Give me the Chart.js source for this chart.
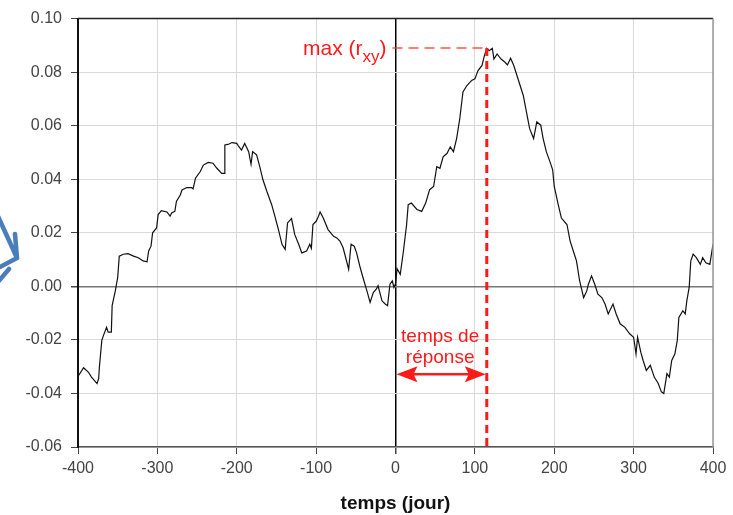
<!DOCTYPE html>
<html>
<head>
<meta charset="utf-8">
<script src="https://cdn.jsdelivr.net/npm/chart.js@4/dist/chart.umd.min.js"></script>
<style>
html, body { margin: 0; padding: 0; background: #fff; }
</style>
</head>
<body>
<canvas id="correl" width="733" height="515"></canvas>
<script>
// lag in days and cross-correlation r_xy
var days = [
  -399, -393, -387, -383, -376, -374, -373, -370, -368, -364, -362, -358, -357, -353, -350, -348,
  -343, -337, -330, -324, -318, -313, -311, -308, -306, -301, -299, -295, -288, -284, -282, -278,
  -276, -271, -269, -263, -257, -255, -252, -246, -242, -236, -230, -225, -219, -216, -215, -211,
  -206, -200, -198, -194, -190, -185, -182, -180, -175, -171, -167, -162, -156, -152, -148, -143,
  -139, -136, -131, -127, -122, -118, -112, -108, -106, -104, -100, -97, -95, -91, -85, -78,
  -74, -70, -66, -59, -56, -52, -49, -45, -41, -36, -32, -28, -24, -22, -17, -13,
  -10, -7, -4, -2, 0, 2, 6, 10, 14, 16, 20, 27, 33, 38, 43, 48,
  52, 56, 60, 65, 69, 73, 77, 81, 85, 90, 96, 100, 104, 109, 112, 115,
  118, 122, 124, 128, 133, 138, 141, 145, 149, 155, 161, 165, 169, 174, 178, 183,
  186, 190, 195, 198, 200, 205, 209, 216, 220, 224, 228, 232, 237, 241, 243, 247,
  251, 255, 260, 264, 268, 274, 278, 283, 289, 295, 300, 303, 305, 309, 312, 316,
  321, 326, 331, 335, 338, 342, 345, 348, 352, 355, 357, 362, 365, 367, 370, 372,
  375, 379, 384, 387, 391, 396, 400
];
var rxy = [
  -0.0332, -0.0304, -0.0320, -0.0339, -0.0363, -0.0345, -0.0300, -0.0202, -0.0184, -0.0153, -0.0171, -0.0171, -0.0072, -0.0017, 0.0033, 0.0113,
  0.0120, 0.0122, 0.0113, 0.0107, 0.0095, 0.0092, 0.0132, 0.0150, 0.0200, 0.0218, 0.0268, 0.0283, 0.0278, 0.0262, 0.0274, 0.0280,
  0.0317, 0.0342, 0.0360, 0.0369, 0.0369, 0.0364, 0.0404, 0.0429, 0.0453, 0.0463, 0.0460, 0.0441, 0.0422, 0.0422, 0.0528, 0.0530,
  0.0537, 0.0534, 0.0525, 0.0509, 0.0534, 0.0503, 0.0456, 0.0503, 0.0491, 0.0447, 0.0398, 0.0354, 0.0305, 0.0262, 0.0218, 0.0157,
  0.0138, 0.0237, 0.0253, 0.0194, 0.0157, 0.0125, 0.0132, 0.0157, 0.0142, 0.0231, 0.0243, 0.0262, 0.0278, 0.0255, 0.0212, 0.0187,
  0.0181, 0.0169, 0.0144, 0.0064, 0.0157, 0.0150, 0.0125, 0.0076, 0.0033, -0.0017, -0.0060, -0.0023, -0.0010, 0.0002, -0.0054, -0.0066,
  -0.0072, 0.0008, 0.0020, -0.0004, 0.0010, 0.0066, 0.0045, 0.0132, 0.0231, 0.0305, 0.0311, 0.0287, 0.0280, 0.0311, 0.0361, 0.0373,
  0.0447, 0.0441, 0.0484, 0.0497, 0.0521, 0.0503, 0.0552, 0.0627, 0.0726, 0.0750, 0.0769, 0.0775, 0.0806, 0.0825, 0.0862, 0.0889,
  0.0880, 0.0889, 0.0849, 0.0868, 0.0849, 0.0837, 0.0827, 0.0852, 0.0825, 0.0769, 0.0713, 0.0651, 0.0589, 0.0552, 0.0614, 0.0602,
  0.0552, 0.0503, 0.0462, 0.0435, 0.0373, 0.0305, 0.0255, 0.0231, 0.0169, 0.0132, 0.0095, 0.0020, -0.0042, -0.0017, 0.0008, 0.0039,
  0.0008, -0.0029, -0.0042, -0.0066, -0.0103, -0.0066, -0.0103, -0.0140, -0.0153, -0.0177, -0.0190, -0.0252, -0.0190, -0.0246, -0.0277, -0.0314,
  -0.0295, -0.0339, -0.0363, -0.0394, -0.0400, -0.0326, -0.0339, -0.0277, -0.0252, -0.0202, -0.0116, -0.0091, -0.0103, -0.0054, -0.0004, 0.0095,
  0.0120, 0.0107, 0.0082, 0.0107, 0.0088, 0.0082, 0.0157
];

// peak of the correlation and the response time
var maxR = 0.089;
var lagDays = 115;

var font = '"Liberation Sans", Arial, sans-serif';

function isZero(v) { return Math.abs(v) < 1e-9; }

// red annotations + blue arrow + plot frame
var annotations = {
  id: 'annotations',
  afterDraw: function (chart) {
    var ctx = chart.ctx, x = chart.scales.x, y = chart.scales.y, area = chart.chartArea;
    var x0 = x.getPixelForValue(0), xl = x.getPixelForValue(lagDays);
    var yPeak = y.getPixelForValue(maxR), yBottom = y.getPixelForValue(y.min);
    ctx.save();

    // frame top / right
    ctx.lineWidth = 1.5;
    ctx.strokeStyle = '#222';
    ctx.beginPath(); ctx.moveTo(area.left, area.top); ctx.lineTo(area.right, area.top); ctx.stroke();
    ctx.strokeStyle = '#999';
    ctx.beginPath(); ctx.moveTo(area.right, area.top); ctx.lineTo(area.right, area.bottom); ctx.stroke();

    // dashed lines to the peak
    ctx.strokeStyle = 'rgba(255,50,50,0.85)';
    ctx.lineWidth = 1.5;
    ctx.setLineDash([10, 6]);
    ctx.beginPath(); ctx.moveTo(x0 - 3, yPeak); ctx.lineTo(xl, yPeak); ctx.stroke();
    ctx.strokeStyle = '#ff1a1a';
    ctx.lineWidth = 3;
    ctx.setLineDash([8, 5]);
    ctx.beginPath(); ctx.moveTo(xl, yPeak); ctx.lineTo(xl, yBottom); ctx.stroke();
    ctx.setLineDash([]);

    // "max (r_xy)"
    ctx.fillStyle = '#ff1a1a';
    ctx.textBaseline = 'alphabetic';
    ctx.textAlign = 'left';
    ctx.font = '21px ' + font;
    var wMain = ctx.measureText('max (r').width, wClose = ctx.measureText(')').width;
    ctx.font = '17px ' + font;
    var wSub = ctx.measureText('xy').width;
    var left = x0 - 9 - wClose - wSub - wMain;
    ctx.font = '21px ' + font;
    ctx.fillText('max (r', left, yPeak + 7);
    ctx.font = '17px ' + font;
    ctx.fillText('xy', left + wMain, yPeak + 14);
    ctx.font = '21px ' + font;
    ctx.fillText(')', left + wMain + wSub, yPeak + 7);

    // response time double arrow
    var ya = y.getPixelForValue(-0.0328);
    ctx.strokeStyle = '#ff1a1a';
    ctx.lineWidth = 2.5;
    ctx.beginPath(); ctx.moveTo(x0 + 15, ya); ctx.lineTo(xl - 15, ya); ctx.stroke();
    ctx.beginPath();
    ctx.moveTo(x0 + 1, ya); ctx.lineTo(x0 + 22, ya - 8); ctx.lineTo(x0 + 18, ya); ctx.lineTo(x0 + 22, ya + 8); ctx.closePath();
    ctx.moveTo(xl - 1, ya); ctx.lineTo(xl - 22, ya - 8); ctx.lineTo(xl - 18, ya); ctx.lineTo(xl - 22, ya + 8); ctx.closePath();
    ctx.fill();
    ctx.textAlign = 'center';
    ctx.font = '19px ' + font;
    var xm = (x0 + xl) / 2 - 1;
    ctx.fillText('temps de', xm, ya - 32);
    ctx.fillText('réponse', xm, ya - 11);

    // blue pointer arrow on the left edge
    ctx.strokeStyle = '#4a7ebb';
    ctx.lineWidth = 4.5;
    ctx.lineCap = 'round';
    ctx.beginPath();
    ctx.moveTo(-4, 212); ctx.lineTo(17, 258);
    ctx.moveTo(15, 234); ctx.lineTo(17, 258);
    ctx.moveTo(-2, 268); ctx.lineTo(17, 258);
    ctx.moveTo(-2, 282); ctx.lineTo(9, 269);
    ctx.stroke();

    ctx.restore();
  }
};

var correlChart = new Chart(document.getElementById('correl').getContext('2d'), {
  type: 'line',
  data: {
    datasets: [{
      data: days.map(function (d, i) { return { x: d, y: rxy[i] }; }),
      borderColor: '#111',
      borderWidth: 1.2,
      pointRadius: 0,
      tension: 0,
      fill: false
    }]
  },
  options: {
    responsive: false,
    animation: false,
    devicePixelRatio: 1,
    layout: { padding: { top: 16, right: 20, left: 0, bottom: 0 } },
    plugins: {
      legend: { display: false },
      tooltip: { enabled: false }
    },
    scales: {
      x: {
        type: 'linear',
        min: -400,
        max: 400,
        ticks: { stepSize: 100, color: '#444', font: { size: 16, family: font }, padding: 5, maxRotation: 0 },
        grid: {
          color: function (c) { return isZero(c.tick.value) ? '#000' : '#d9d9d9'; },
          lineWidth: function (c) { return isZero(c.tick.value) ? 1.5 : 1; },
          tickLength: 7,
          tickColor: '#444'
        },
        border: { color: '#555', width: 1.5 },
        title: { display: true, text: 'temps (jour)', color: '#111', font: { size: 19, weight: 'bold', family: font }, padding: { top: 2, bottom: 0 } },
        afterFit: function (s) { s.height = 68; }
      },
      y: {
        min: -0.06,
        max: 0.10,
        ticks: {
          stepSize: 0.02,
          color: '#444',
          font: { size: 16, family: font },
          padding: 9,
          callback: function (v) { return v.toFixed(2); }
        },
        grid: {
          color: function (c) { return isZero(c.tick.value) ? '#777' : '#d9d9d9'; },
          lineWidth: function (c) { return isZero(c.tick.value) ? 1.5 : 1; },
          tickLength: 7,
          tickColor: '#444'
        },
        border: { color: '#111', width: 2 },
        afterFit: function (s) { s.width = 78; }
      }
    }
  },
  plugins: [annotations]
});
</script>
</body>
</html>
